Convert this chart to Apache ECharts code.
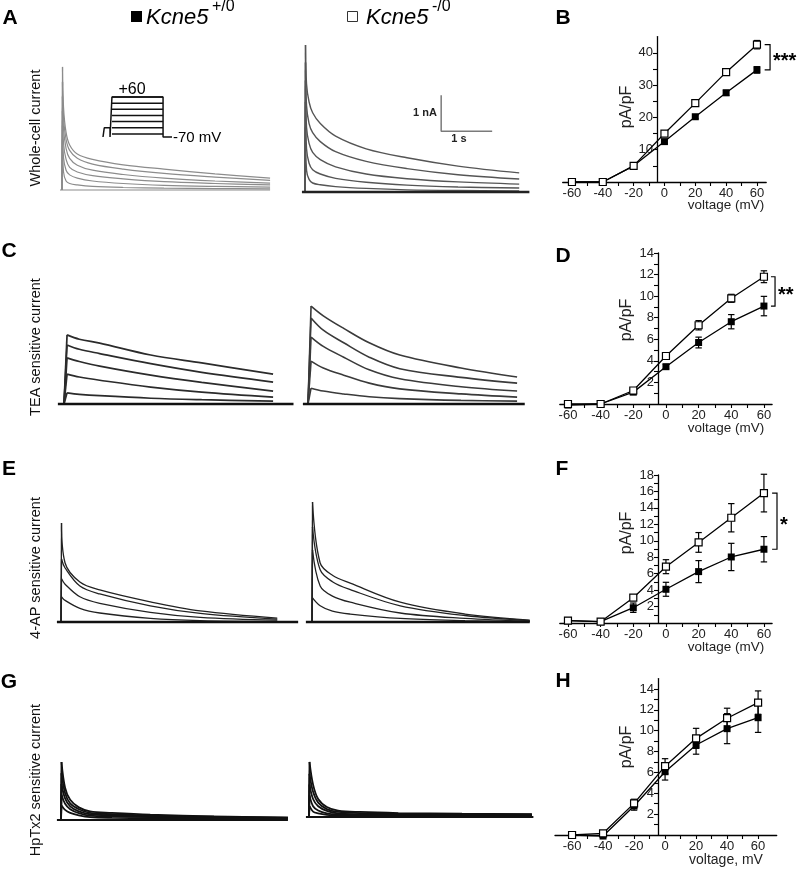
<!DOCTYPE html>
<html>
<head>
<meta charset="utf-8">
<title>Kcne5 currents</title>
<script src="https://cdn.jsdelivr.net/npm/echarts@6.0.0/dist/echarts.min.js"></script>
<style>
html, body { margin: 0; padding: 0; background: #fff; }
#fig { width: 800px; height: 870px; }
</style>
</head>
<body>
<div id="fig"></div>
<script>
// ---- I-V curves (pA/pF).  wt = Kcne5+/0 (filled), ko = Kcne5-/0 (open)
var voltages = [-60, -40, -20, 0, 20, 40, 60];
var xLabels = [-60, -40, -20, 0, 20, 40, 60];
var xTicks = [-60, -50, -40, -30, -20, -10, 0, 10, 20, 30, 40, 50, 60];

var wtB = [0, 0, 5.0, 12.5, 20.2, 27.6, 34.7];
var wtBErr = [0, 0, 0.3, 0.5, 0.6, 0.8, 1.0];
var koB = [0, 0, 5.0, 15.0, 24.4, 34.0, 42.5];
var koBErr = [0, 0, 0.3, 0.6, 0.7, 1.0, 1.3];
var yLabB = [10, 20, 30, 40];
var yTickB = [5, 10, 15, 20, 25, 30, 35, 40];

var wtD = [-0.1, 0, 1.1, 3.46, 5.7, 7.63, 9.08];
var wtDErr = [0, 0, 0.15, 0.2, 0.5, 0.66, 0.9];
var koD = [0, 0, 1.25, 4.45, 7.3, 9.8, 11.8];
var koDErr = [0, 0, 0.15, 0.2, 0.43, 0.37, 0.55];
var yLabD = [2, 4, 6, 8, 10, 12, 14];
var yTickD = [1, 2, 3, 4, 5, 6, 7, 8, 9, 10, 11, 12, 13, 14];

var wtF = [0.28, 0.16, 1.86, 4.1, 6.25, 8.03, 8.97];
var wtFErr = [0, 0, 0.57, 0.85, 1.34, 1.66, 1.54];
var koF = [0.28, 0.16, 3.08, 6.85, 9.8, 12.8, 15.8];
var koFErr = [0, 0, 0.2, 0.85, 1.2, 1.72, 2.29];
var yLabF = [2, 4, 6, 8, 10, 12, 14, 16, 18];
var yTickF = [1, 2, 3, 4, 5, 6, 7, 8, 9, 10, 11, 12, 13, 14, 15, 16, 17, 18];

var wtH = [0, -0.1, 2.78, 6.07, 8.63, 10.2, 11.25];
var wtHErr = [0, 0, 0.4, 0.8, 0.88, 1.44, 1.41];
var koH = [0, 0.16, 3.03, 6.6, 9.27, 11.2, 12.7];
var koHErr = [0, 0, 0.4, 0.72, 0.96, 0.96, 1.12];
var yLabH = [2, 4, 6, 8, 10, 12, 14];
var yTickH = [1, 2, 3, 4, 5, 6, 7, 8, 9, 10, 11, 12, 13, 14];

// ---- current traces: time (s) and current (nA), one row per voltage step
var tA_L = [0.01, 0.03, 0.08, 0.15, 0.3, 0.6, 1.2, 2.0, 3.0, 4.08];
var iA_L = [
    [3.42, 2.3, 1.6, 1.25, 1.0, 0.85, 0.7, 0.58, 0.45, 0.33],
    [3.0, 2.0, 1.4, 1.1, 0.88, 0.72, 0.58, 0.46, 0.36, 0.27],
    [2.6, 1.7, 1.15, 0.88, 0.69, 0.55, 0.43, 0.33, 0.25, 0.19],
    [2.2, 1.3, 0.85, 0.63, 0.5, 0.4, 0.31, 0.23, 0.18, 0.14],
    [1.8, 0.9, 0.55, 0.42, 0.33, 0.25, 0.18, 0.13, 0.1, 0.08],
    [1.4, 0.5, 0.25, 0.18, 0.14, 0.1, 0.07, 0.05, 0.04, 0.03]
];
var tA_R = [0.01, 0.03, 0.08, 0.15, 0.3, 0.6, 1.2, 2.0, 3.0, 4.2];
var iA_R = [
    [4.08, 3.0, 2.5, 2.2, 1.9, 1.55, 1.2, 0.95, 0.72, 0.53],
    [3.6, 2.4, 1.9, 1.65, 1.4, 1.12, 0.85, 0.65, 0.48, 0.36],
    [3.1, 1.8, 1.35, 1.1, 0.9, 0.7, 0.5, 0.37, 0.28, 0.22],
    [2.5, 1.2, 0.8, 0.62, 0.5, 0.38, 0.27, 0.19, 0.14, 0.11],
    [1.8, 0.6, 0.35, 0.25, 0.2, 0.15, 0.1, 0.06, 0.04, 0.03]
];
var tC_L = [0.06, 0.3, 0.7, 1.7, 2.7, 4.1];
var iC_L = [
    [1.92, 1.8, 1.69, 1.36, 1.14, 0.83],
    [1.64, 1.52, 1.4, 1.12, 0.88, 0.61],
    [1.28, 1.18, 1.05, 0.8, 0.6, 0.36],
    [0.83, 0.75, 0.66, 0.47, 0.33, 0.19],
    [0.31, 0.27, 0.23, 0.16, 0.12, 0.08]
];
var tC_R = [0.06, 0.3, 0.7, 1.2, 1.8, 3.0, 4.1];
var iC_R = [
    [2.72, 2.45, 2.1, 1.7, 1.36, 1.0, 0.75],
    [2.39, 2.05, 1.7, 1.3, 0.98, 0.74, 0.58],
    [1.86, 1.6, 1.3, 0.95, 0.7, 0.48, 0.36],
    [1.19, 1.0, 0.8, 0.58, 0.42, 0.28, 0.19],
    [0.44, 0.36, 0.28, 0.2, 0.15, 0.1, 0.08]
];
var tE_L = [0.01, 0.08, 0.37, 0.76, 1.75, 2.73, 4.24];
var iE_L = [
    [2.75, 1.64, 1.11, 0.89, 0.56, 0.31, 0.11],
    [1.75, 1.5, 1.0, 0.78, 0.45, 0.24, 0.08],
    [1.2, 1.05, 0.7, 0.52, 0.27, 0.13, 0.05],
    [0.7, 0.6, 0.38, 0.25, 0.1, 0.04, 0.02]
];
var tE_R = [0.01, 0.16, 0.4, 0.75, 1.73, 3.0, 4.27];
var iE_R = [
    [3.33, 1.64, 1.3, 1.08, 0.55, 0.22, 0.05],
    [2.64, 1.45, 1.12, 0.9, 0.45, 0.18, 0.04],
    [2.0, 1.0, 0.72, 0.55, 0.25, 0.1, 0.02],
    [0.67, 0.45, 0.3, 0.22, 0.1, 0.04, 0.01]
];
var tG_L = [0.01, 0.08, 0.18, 0.35, 0.57, 1.0, 1.75, 3.0, 4.45];
var iG_L = [
    [1.61, 0.9, 0.56, 0.35, 0.24, 0.2, 0.15, 0.1, 0.07],
    [1.3, 0.75, 0.46, 0.3, 0.2, 0.16, 0.12, 0.09, 0.06],
    [1.0, 0.6, 0.38, 0.24, 0.16, 0.13, 0.1, 0.07, 0.05],
    [0.7, 0.45, 0.3, 0.19, 0.12, 0.1, 0.08, 0.06, 0.04],
    [0.4, 0.28, 0.2, 0.13, 0.08, 0.06, 0.05, 0.04, 0.03]
];
var tG_R = [0.01, 0.08, 0.18, 0.35, 0.57, 1.0, 1.75, 3.0, 4.37];
var iG_R = [
    [1.53, 0.9, 0.5, 0.28, 0.18, 0.14, 0.11, 0.09, 0.08],
    [1.2, 0.7, 0.4, 0.22, 0.14, 0.11, 0.09, 0.08, 0.07],
    [0.9, 0.5, 0.3, 0.17, 0.1, 0.08, 0.07, 0.06, 0.05],
    [0.6, 0.3, 0.18, 0.1, 0.07, 0.06, 0.05, 0.04, 0.04],
    [0.3, 0.15, 0.1, 0.06, 0.04, 0.03, 0.03, 0.02, 0.02]
];

// ---- voltage protocol (s, mV)
var protoHold = -70;
var protoPre = -40;
var protoSteps = [-60, -40, -20, 0, 20, 40, 60];
var protoTimes = [0, 0.1, 0.55, 0.7, 4.7, 5.4];

// ---- scale bar (1 s, 1 nA), corner position in right-hand A traces
var scaleBar = [2.67, 1.69];

var FONT = '"Liberation Sans", Arial, Helvetica, sans-serif';
var PX_S = 51, PX_NA = 36;
var T_MIN = -0.3, T_MAX = 4.9, I_MIN = -0.3, I_MAX = 4.3;

var tracePanels = [
    {x0: 62, base: 190, t: tA_L, amps: iA_L, span: [-0.04, 4.08], color: '#8c8c8c', width: 1.2, baseColor: '#8c8c8c', baseWidth: 1.2},
    {x0: 305, base: 192, t: tA_R, amps: iA_R, span: [-0.06, 4.4], color: '#555', width: 1.4, baseColor: '#222', baseWidth: 2.5},
    {x0: 64, base: 404, t: tC_L, amps: iC_L, span: [-0.12, 4.5], color: '#2b2b2b', width: 1.7, baseColor: '#111', baseWidth: 2.5},
    {x0: 308, base: 404, t: tC_R, amps: iC_R, span: [-0.1, 4.25], color: '#3a3a3a', width: 1.6, baseColor: '#111', baseWidth: 2.5},
    {x0: 61, base: 622, t: tE_L, amps: iE_L, span: [-0.08, 4.65], color: '#222', width: 1.3, baseColor: '#111', baseWidth: 2.5},
    {x0: 312, base: 622, t: tE_R, amps: iE_R, span: [-0.12, 4.27], color: '#222', width: 1.3, baseColor: '#111', baseWidth: 2.5},
    {x0: 61, base: 820, t: tG_L, amps: iG_L, span: [-0.08, 4.45], color: '#111', width: 1.8, baseColor: '#111', baseWidth: 2.2},
    {x0: 309, base: 817, t: tG_R, amps: iG_R, span: [-0.06, 4.4], color: '#111', width: 1.8, baseColor: '#111', baseWidth: 2.2}
];

var ivPanels = [
    {wt: wtB, wtE: wtBErr, ko: koB, koE: koBErr, yMax: 45, yLab: yLabB, yTick: yTickB,
     xMin: -66, xMax: 66, left: 562.7, width: 203.5, top: 36.6, height: 145.4, yAxisX: 657, stars: '***', bracket: [65, 68.5]},
    {wt: wtD, wtE: wtDErr, ko: koD, koE: koDErr, yMax: 14, yLab: yLabD, yTick: yTickD,
     xMin: -65, xMax: 65, left: 559.8, width: 212.3, top: 253, height: 151, yAxisX: 658, stars: '**', bracket: [64.3, 66.8]},
    {wt: wtF, wtE: wtFErr, ko: koF, koE: koFErr, yMax: 18, yLab: yLabF, yTick: yTickF,
     xMin: -65, xMax: 65, left: 559.8, width: 212.3, top: 475, height: 148, yAxisX: 658, stars: '*', bracket: [65, 68]},
    {wt: wtH, wtE: wtHErr, ko: koH, koE: koHErr, yMax: 15, yLab: yLabH, yTick: yTickH,
     xMin: -71, xMax: 72, left: 555, width: 221.7, top: 678.6, height: 156.4, yAxisX: 658, stars: null}
];

var grids = [], xAxes = [], yAxes = [], series = [], graphics = [];

function addGrid(g, xa, ya) {
    grids.push(g);
    var i = grids.length - 1;
    xa.gridIndex = i; ya.gridIndex = i;
    xAxes.push(xa); yAxes.push(ya);
    return i;
}

function lineSeries(gi, data, color, width, extra) {
    var s = {type: 'line', xAxisIndex: gi, yAxisIndex: gi, data: data, symbol: 'none',
        lineStyle: {color: color, width: width}, silent: true, clip: false, animation: false};
    for (var k in extra) s[k] = extra[k];
    return s;
}

// traces
var traceGridIdx = [];
tracePanels.forEach(function (p) {
    var gi = addGrid(
        {left: p.x0 + T_MIN * PX_S, top: p.base - I_MAX * PX_NA, width: (T_MAX - T_MIN) * PX_S, height: (I_MAX - I_MIN) * PX_NA},
        {type: 'value', min: T_MIN, max: T_MAX, show: false},
        {type: 'value', min: I_MIN, max: I_MAX, show: false}
    );
    traceGridIdx.push(gi);
    series.push(lineSeries(gi, [[p.span[0], 0], [p.span[1], 0]], p.baseColor, p.baseWidth, {z: 3}));
    p.amps.forEach(function (row) {
        series.push(lineSeries(gi, [[0, 0], [p.t[0], row[0]]], p.color, p.width, {z: 2}));
        series.push(lineSeries(gi, p.t.map(function (t, i) { return [t, row[i]]; }), p.color, p.width,
            {smooth: 0.35, z: 2}));
    });
});

// scale bar in the right A panel
series.push(lineSeries(traceGridIdx[1],
    [[scaleBar[0], scaleBar[1] + 1], [scaleBar[0], scaleBar[1]], [scaleBar[0] + 1, scaleBar[1]]],
    '#7a7a7a', 1.5, {z: 4}));

// voltage protocol inset
var pg = addGrid({left: 103, top: 97, width: 69, height: 40},
    {type: 'value', min: 0, max: 5.4, show: false},
    {type: 'value', min: protoHold, max: 60, show: false});
var pt = protoTimes, vMax = Math.max.apply(null, protoSteps);
series.push(lineSeries(pg, [
    [pt[0], protoHold], [pt[1], protoHold], [pt[1], protoPre], [pt[2], protoPre], [pt[2], protoHold],
    [pt[3], protoHold], [pt[3], vMax], [pt[4], vMax], [pt[4], protoHold], [pt[5], protoHold]
], '#111', 1.5));
protoSteps.forEach(function (v) {
    series.push(lineSeries(pg, [[pt[3], v], [pt[4], v]], '#111', 1.5));
});

// error bars
function errBar(params, api) {
    var x = api.value(0), y = api.value(1), e = api.value(2);
    if (!e) return null;
    var hi = api.coord([x, y + e]), lo = api.coord([x, y - e]);
    var cw = 3.2, st = {stroke: '#000', lineWidth: 1.2};
    return {type: 'group', children: [
        {type: 'line', shape: {x1: hi[0], y1: hi[1], x2: lo[0], y2: lo[1]}, style: st},
        {type: 'line', shape: {x1: hi[0] - cw, y1: hi[1], x2: hi[0] + cw, y2: hi[1]}, style: st},
        {type: 'line', shape: {x1: lo[0] - cw, y1: lo[1], x2: lo[0] + cw, y2: lo[1]}, style: st}
    ]};
}

// significance bracket between the two +60 mV points, with stars
function bracketRenderer(stars) {
    return function (params, api) {
        var x0 = api.value(0), x1 = api.value(1), yk = api.value(2), yw = api.value(3);
        var a = api.coord([x0, yk]), q = api.coord([x1, yk]), c = api.coord([x1, yw]), d = api.coord([x0, yw]);
        return {type: 'group', children: [
            {type: 'polyline', shape: {points: [a, q, c, d]},
                style: {stroke: '#000', fill: null, lineWidth: 1.2}},
            {type: 'text', x: q[0] + 3, y: (q[1] + c[1]) / 2 + 4,
                style: {text: stars, fill: '#000', font: 'bold 20px ' + FONT,
                    textAlign: 'left', textVerticalAlign: 'middle', align: 'left', verticalAlign: 'middle'}}
        ]};
    };
}

var axisLineStyle = {color: '#000', width: 1.3};
var tickLabel = {fontSize: 13, color: '#222', fontFamily: FONT};

ivPanels.forEach(function (p) {
    var gi = addGrid({left: p.left, top: p.top, width: p.width, height: p.height},
        {type: 'value', min: p.xMin, max: p.xMax, position: 'bottom',
            axisLine: {onZero: false, lineStyle: axisLineStyle},
            axisTick: {customValues: xTicks, length: 4, lineStyle: {color: '#000', width: 1.1}},
            axisLabel: Object.assign({customValues: xLabels, margin: 5}, tickLabel),
            splitLine: {show: false}},
        {type: 'value', min: 0, max: p.yMax, position: 'left', offset: p.left - p.yAxisX,
            axisLine: {onZero: false, lineStyle: axisLineStyle},
            axisTick: {customValues: p.yTick, length: 4, lineStyle: {color: '#000', width: 1.1}},
            axisLabel: Object.assign({customValues: p.yLab, margin: 4}, tickLabel),
            splitLine: {show: false}});

    [[p.wt, p.wtE], [p.ko, p.koE]].forEach(function (d) {
        series.push({type: 'custom', xAxisIndex: gi, yAxisIndex: gi, renderItem: errBar, silent: true,
            encode: {x: 0, y: 1}, z: 2, animation: false,
            data: voltages.map(function (v, i) { return [v, d[0][i], d[1][i]]; })});
    });
    series.push(lineSeries(gi, voltages.map(function (v, i) { return [v, p.wt[i]]; }), '#000', 1.3,
        {symbol: 'rect', symbolSize: 7, itemStyle: {color: '#000'}, z: 3}));
    series.push(lineSeries(gi, voltages.map(function (v, i) { return [v, p.ko[i]]; }), '#000', 1.3,
        {symbol: 'rect', symbolSize: 7, itemStyle: {color: '#fff', borderColor: '#000', borderWidth: 1.2}, z: 4}));

    if (p.stars) {
        var last = voltages.length - 1, b = p.bracket;
        series.push({type: 'custom', xAxisIndex: gi, yAxisIndex: gi, silent: true, animation: false, z: 3,
            encode: {x: [0, 1], y: [2, 3]},
            data: [[b[0], b[1], p.ko[last], p.wt[last]]],
            renderItem: bracketRenderer(p.stars)});
    }
});

// ---- text
function txt(s, x, y, font, extra) {
    var o = {type: 'text', x: x, y: y, silent: true,
        style: {text: s, font: font, fill: '#111', textAlign: 'center', textVerticalAlign: 'middle',
            align: 'center', verticalAlign: 'middle'}};
    if (extra) {
        if (extra.rotation != null) o.rotation = extra.rotation;
        if (extra.align) { o.style.textAlign = extra.align; o.style.align = extra.align; }
        if (extra.fill) o.style.fill = extra.fill;
    }
    graphics.push(o);
}

var bold = 'bold 21px ' + FONT;
[['A', 10, 18], ['B', 563, 18], ['C', 9, 251], ['D', 563, 256],
 ['E', 9, 469], ['F', 562, 469], ['G', 9, 682], ['H', 563, 681]].forEach(function (l) {
    txt(l[0], l[1], l[2], bold, {fill: '#000'});
});

// header
graphics.push({type: 'rect', shape: {x: 131, y: 11, width: 11, height: 11}, style: {fill: '#000'}, silent: true});
txt('Kcne5', 146, 18, 'italic 22px ' + FONT, {align: 'left', fill: '#000'});
txt('+/0', 212, 6.5, '16px ' + FONT, {align: 'left', fill: '#000'});
graphics.push({type: 'rect', shape: {x: 347.5, y: 11.5, width: 10, height: 10},
    style: {fill: '#fff', stroke: '#333', lineWidth: 1}, silent: true});
txt('Kcne5', 366, 18, 'italic 22px ' + FONT, {align: 'left', fill: '#000'});
txt('-/0', 432, 6.5, '16px ' + FONT, {align: 'left', fill: '#000'});

// row names
var rowFont = '14.5px ' + FONT;
txt('Whole-cell current', 36, 128, rowFont, {rotation: Math.PI / 2});
txt('TEA sensitive current', 36, 347, rowFont, {rotation: Math.PI / 2});
txt('4-AP sensitive current', 36, 568, rowFont, {rotation: Math.PI / 2});
txt('HpTx2 sensitive current', 36, 780, rowFont, {rotation: Math.PI / 2});

// protocol + scale bar labels
txt('+60', 132, 90, '16px ' + FONT, {fill: '#000'});
txt('-70 mV', 173, 138, '15px ' + FONT, {align: 'left', fill: '#000'});
txt('1 nA', 425, 113, 'bold 11px ' + FONT, {fill: '#222'});
txt('1 s', 459, 139, 'bold 11px ' + FONT, {fill: '#222'});

// IV axis names
var nameFont = '16px ' + FONT;
[[107, 205, 'voltage (mV)'], [320, 428, 'voltage (mV)'], [533, 647, 'voltage (mV)'], [747, 860, 'voltage, mV']]
    .forEach(function (r, i) {
        txt('pA/pF', 627, r[0], nameFont, {rotation: Math.PI / 2, fill: '#222'});
        txt(r[2], 726, r[1], (i === 3 ? '14px ' : '13.5px ') + FONT, {fill: '#222'});
    });

var chart = echarts.init(document.getElementById('fig'));
chart.setOption({
    animation: false,
    backgroundColor: '#fff',
    grid: grids,
    xAxis: xAxes,
    yAxis: yAxes,
    series: series,
    graphic: {elements: graphics}
});
</script>
</body>
</html>
